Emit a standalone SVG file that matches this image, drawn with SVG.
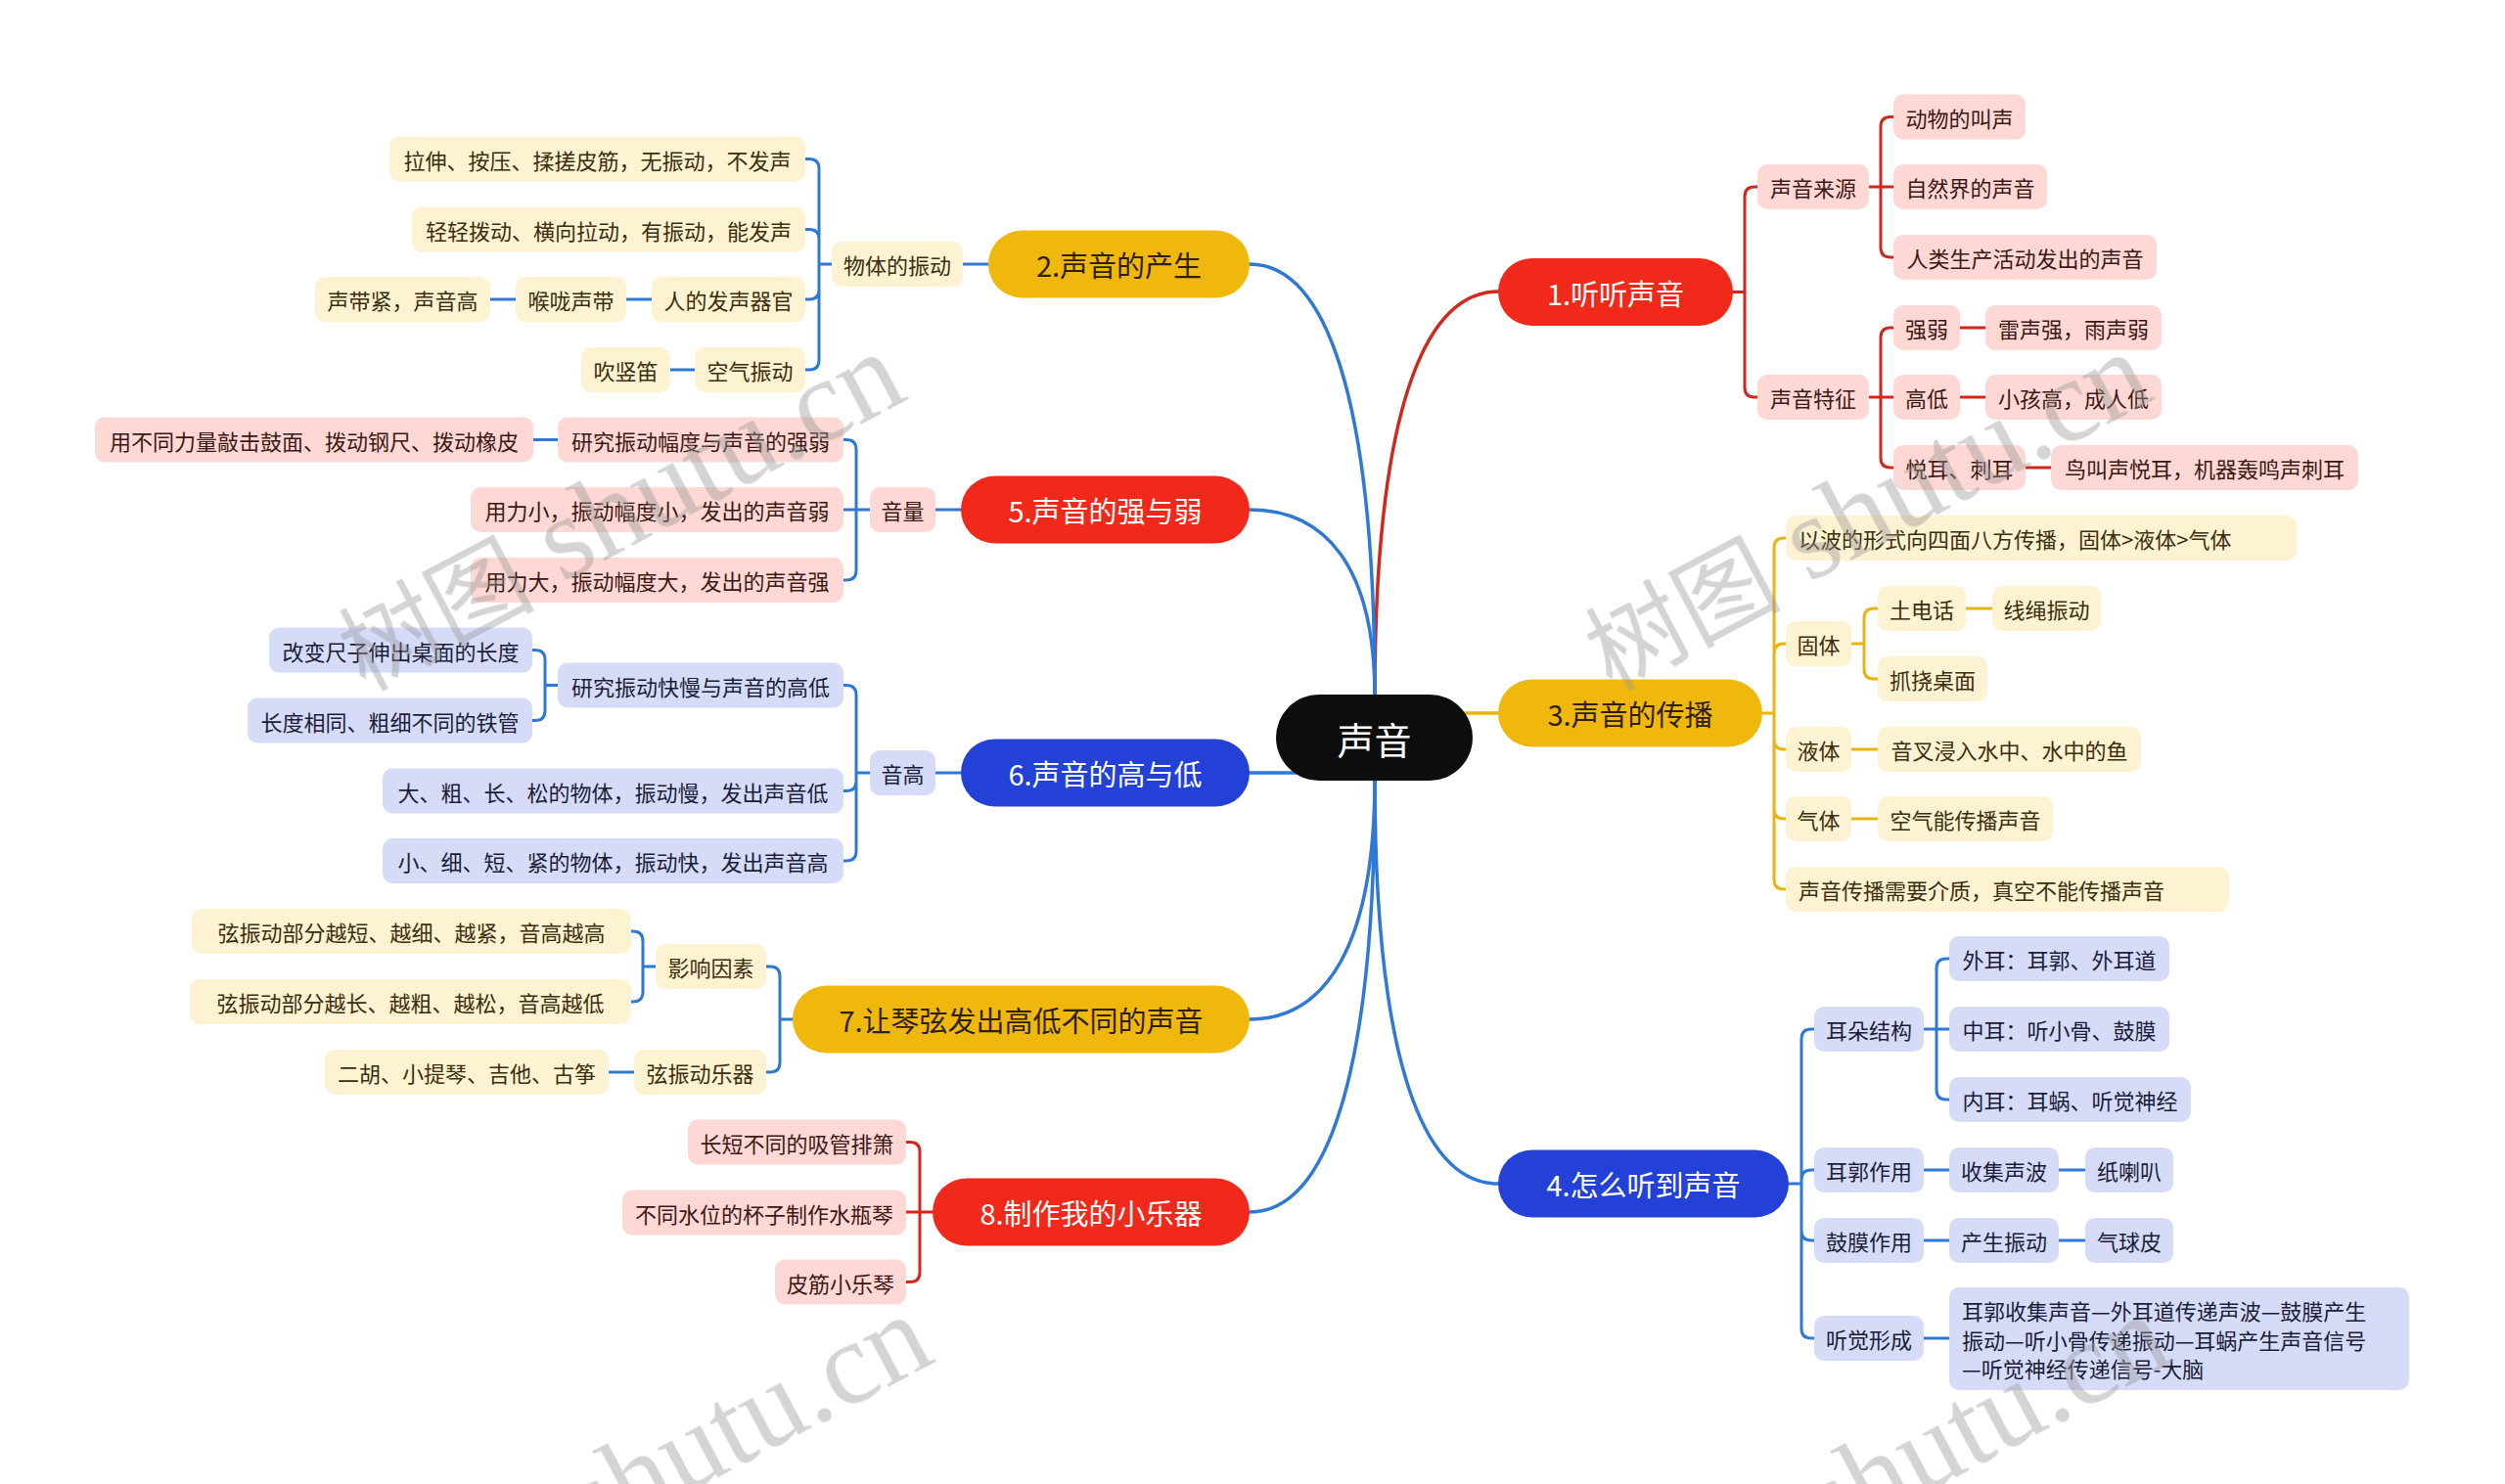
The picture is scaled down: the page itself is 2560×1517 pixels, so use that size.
<svg xmlns="http://www.w3.org/2000/svg" width="2560" height="1517" viewBox="0 0 2560 1517">
<style>
text{font-family:"Noto Sans CJK SC","Noto Sans",sans-serif;dominant-baseline:central}
.c{fill:none;stroke-width:3;stroke-linecap:round;stroke-linejoin:round}
.m{fill:none;stroke-width:3.5;stroke-linecap:round}
.sr{stroke:#d0281c}.sb{stroke:#2e78d6}.sy{stroke:#e9b40e}
.nr{fill:#f0291b}.ny{fill:#f0b80c}.nb{fill:#2441d7}
.lr{fill:#fdd8d5}.ly{fill:#fdf2d2}.lb{fill:#d6dbf7}
.t1{font-size:29px;text-anchor:middle}
.w{fill:#ffffff}.d{fill:#2e2000}
.t{font-size:22px;text-anchor:middle}
.ts{font-size:22px;text-anchor:start}
.tr{fill:#3d1712}.ty{fill:#3b2e0c}.tb{fill:#1a1d3a}
.wm{fill:#999999;opacity:0.42}
</style>
<g id="connectors">
<path class="m sr" d="M1405,712 C1405,422 1455,298 1531,298"/>
<path class="m sb" d="M1405,712 C1405,403 1354,270 1277,270"/>
<path class="m sb" d="M1405,712 C1405,578 1354,521 1277,521"/>
<path class="m sy" d="M1480,729 H1531"/>
<path class="m sb" d="M1340,790 H1277"/>
<path class="m sb" d="M1405,796 C1405,1086 1455,1210 1531,1210"/>
<path class="m sb" d="M1405,796 C1405,968 1354,1042 1277,1042"/>
<path class="m sb" d="M1405,796 C1405,1106 1354,1239 1277,1239"/>
<path class="c sr" d="M1771,298.5 H1783 M1783,298.5 V201 Q1783,191 1793,191 H1796 M1783,298.5 V396 Q1783,406 1793,406 H1796"/>
<path class="c sr" d="M1910,191 H1935 M1922,191 V129.5 Q1922,119.5 1932,119.5 H1935 M1922,191 V253 Q1922,263 1932,263 H1935"/>
<path class="c sr" d="M1910,406 H1935 M1922,406 V345 Q1922,335 1932,335 H1935 M1922,406 V468 Q1922,478 1932,478 H1935"/>
<path class="c sr" d="M2003,335 H2029 M2003,406 H2029 M2070,478 H2096"/>
<path class="c sy" d="M1801,729 H1813 M1813,729 V560 Q1813,550 1823,550 H1825 M1813,729 V668 Q1813,658 1823,658 H1825 M1813,729 V756 Q1813,766 1823,766 H1825 M1813,729 V827 Q1813,837 1823,837 H1825 M1813,729 V899 Q1813,909 1823,909 H1825"/>
<path class="c sy" d="M1892,658 H1905 M1905,658 V632 Q1905,622 1915,622 H1919 M1905,658 V684 Q1905,694 1915,694 H1919"/>
<path class="c sy" d="M2009,622 H2036 M1892,766 H1919 M1892,837 H1919"/>
<path class="c sb" d="M1828,1210 H1841 M1841,1210 V1062 Q1841,1052 1851,1052 H1854 M1841,1210 V1206 Q1841,1196 1851,1196 H1854 M1841,1210 V1258 Q1841,1268 1851,1268 H1854 M1841,1210 V1358 Q1841,1368 1851,1368 H1854"/>
<path class="c sb" d="M1966,1052 H1992 M1979,1052 V990 Q1979,980 1989,980 H1992 M1979,1052 V1114 Q1979,1124 1989,1124 H1992"/>
<path class="c sb" d="M1966,1196 H1992 M2104,1196 H2131 M1966,1268 H1992 M2104,1268 H2131 M1966,1368 H1992"/>
<path class="c sb" d="M1010,270 H984"/>
<path class="c sb" d="M850,270 H837 M837,270 V172.5 Q837,162.5 827,162.5 H823 M837,270 V244.5 Q837,234.5 827,234.5 H823 M837,270 V296 Q837,306 827,306 H823 M837,270 V368 Q837,378 827,378 H823"/>
<path class="c sb" d="M666,306 H640 M527,306 H501 M710,378 H685"/>
<path class="c sb" d="M982,521 H956 M889,521 H862 M875,521 V459.5 Q875,449.5 865,449.5 H862 M875,521 V583 Q875,593 865,593 H862 M570,449.5 H545"/>
<path class="c sb" d="M982,790 H956 M889,790 H875 M875,790 V710.5 Q875,700.5 865,700.5 H862 M875,790 V798.5 Q875,808.5 865,808.5 H862 M875,790 V870 Q875,880 865,880 H862"/>
<path class="c sb" d="M570,700.5 H557 M557,700.5 V674.5 Q557,664.5 547,664.5 H544 M557,700.5 V726.5 Q557,736.5 547,736.5 H544"/>
<path class="c sb" d="M810,1042 H797 M797,1042 V998 Q797,988 787,988 H783 M797,1042 V1086 Q797,1096 787,1096 H783"/>
<path class="c sb" d="M670,988 H657 M657,988 V962 Q657,952 647,952 H645 M657,988 V1014 Q657,1024 647,1024 H645 M648,1096 H622"/>
<path class="c sr" d="M953,1239 H926 M940,1239 V1177.5 Q940,1167.5 930,1167.5 H926 M940,1239 V1300.5 Q940,1310.5 930,1310.5 H926"/>
</g>
<g id="root"><rect x="1304" y="710" width="201" height="88" rx="44" fill="#0d0d0d"/><text x="1404.5" y="754" font-size="38" text-anchor="middle" fill="#ffffff">声音</text></g>
<g id="b1"><rect class="nr" x="1531" y="264" width="240" height="69" rx="34.5"/><text class="t1 w" x="1651" y="298.5">1.听听声音</text></g>
<g id="b2"><rect class="ny" x="1010" y="235.5" width="267" height="69" rx="34.5"/><text class="t1 d" x="1143.5" y="270">2.声音的产生</text></g>
<g id="b3"><rect class="ny" x="1531" y="694.5" width="270" height="69" rx="34.5"/><text class="t1 d" x="1666" y="729">3.声音的传播</text></g>
<g id="b4"><rect class="nb" x="1531" y="1175.5" width="297" height="69" rx="34.5"/><text class="t1 w" x="1679.5" y="1210">4.怎么听到声音</text></g>
<g id="b5"><rect class="nr" x="982" y="486.5" width="295" height="69" rx="34.5"/><text class="t1 w" x="1129.5" y="521">5.声音的强与弱</text></g>
<g id="b6"><rect class="nb" x="982" y="755.5" width="295" height="69" rx="34.5"/><text class="t1 w" x="1129.5" y="790">6.声音的高与低</text></g>
<g id="b7"><rect class="ny" x="810" y="1007.5" width="467" height="69" rx="34.5"/><text class="t1 d" x="1043.5" y="1042">7.让琴弦发出高低不同的声音</text></g>
<g id="b8"><rect class="nr" x="953" y="1204.5" width="324" height="69" rx="34.5"/><text class="t1 w" x="1115" y="1239">8.制作我的小乐器</text></g>
<g id="n1a"><rect class="lr" x="1796" y="168" width="114" height="46" rx="10"/><text class="t tr" x="1853" y="191">声音来源</text></g>
<g id="n1a1"><rect class="lr" x="1935" y="96.5" width="135" height="46" rx="10"/><text class="t tr" x="2002.5" y="119.5">动物的叫声</text></g>
<g id="n1a2"><rect class="lr" x="1935" y="168" width="157" height="46" rx="10"/><text class="t tr" x="2013.5" y="191">自然界的声音</text></g>
<g id="n1a3"><rect class="lr" x="1935" y="240" width="269" height="46" rx="10"/><text class="t tr" x="2069.5" y="263">人类生产活动发出的声音</text></g>
<g id="n1b"><rect class="lr" x="1796" y="383" width="114" height="46" rx="10"/><text class="t tr" x="1853" y="406">声音特征</text></g>
<g id="n1b1"><rect class="lr" x="1935" y="312" width="68" height="46" rx="10"/><text class="t tr" x="1969" y="335">强弱</text></g>
<g id="n1b1a"><rect class="lr" x="2029" y="312" width="180" height="46" rx="10"/><text class="t tr" x="2119" y="335">雷声强，雨声弱</text></g>
<g id="n1b2"><rect class="lr" x="1935" y="383" width="68" height="46" rx="10"/><text class="t tr" x="1969" y="406">高低</text></g>
<g id="n1b2a"><rect class="lr" x="2029" y="383" width="180" height="46" rx="10"/><text class="t tr" x="2119" y="406">小孩高，成人低</text></g>
<g id="n1b3"><rect class="lr" x="1935" y="455" width="135" height="46" rx="10"/><text class="t tr" x="2002.5" y="478">悦耳、刺耳</text></g>
<g id="n1b3a"><rect class="lr" x="2096" y="455" width="314" height="46" rx="10"/><text class="t tr" x="2253" y="478">鸟叫声悦耳，机器轰鸣声刺耳</text></g>
<g id="n3a"><rect class="ly" x="1825" y="527" width="522" height="46" rx="10"/><text class="ts ty" x="1838" y="550">以波的形式向四面八方传播，固体&gt;液体&gt;气体</text></g>
<g id="n3b"><rect class="ly" x="1825" y="635" width="67" height="46" rx="10"/><text class="t ty" x="1858.5" y="658">固体</text></g>
<g id="n3b1"><rect class="ly" x="1919" y="599" width="90" height="46" rx="10"/><text class="t ty" x="1964" y="622">土电话</text></g>
<g id="n3b1a"><rect class="ly" x="2036" y="599" width="111" height="46" rx="10"/><text class="t ty" x="2091.5" y="622">线绳振动</text></g>
<g id="n3b2"><rect class="ly" x="1919" y="671" width="112" height="46" rx="10"/><text class="t ty" x="1975" y="694">抓挠桌面</text></g>
<g id="n3c"><rect class="ly" x="1825" y="743" width="67" height="46" rx="10"/><text class="t ty" x="1858.5" y="766">液体</text></g>
<g id="n3c1"><rect class="ly" x="1919" y="743" width="269" height="46" rx="10"/><text class="t ty" x="2053.5" y="766">音叉浸入水中、水中的鱼</text></g>
<g id="n3d"><rect class="ly" x="1825" y="814" width="67" height="46" rx="10"/><text class="t ty" x="1858.5" y="837">气体</text></g>
<g id="n3d1"><rect class="ly" x="1919" y="814" width="179" height="46" rx="10"/><text class="t ty" x="2008.5" y="837">空气能传播声音</text></g>
<g id="n3e"><rect class="ly" x="1825" y="886" width="453" height="46" rx="10"/><text class="ts ty" x="1838" y="909">声音传播需要介质，真空不能传播声音</text></g>
<g id="n4a"><rect class="lb" x="1854" y="1029" width="112" height="46" rx="10"/><text class="t tb" x="1910" y="1052">耳朵结构</text></g>
<g id="n4a1"><rect class="lb" x="1992" y="957" width="225" height="46" rx="10"/><text class="t tb" x="2104.5" y="980">外耳：耳郭、外耳道</text></g>
<g id="n4a2"><rect class="lb" x="1992" y="1029" width="225" height="46" rx="10"/><text class="t tb" x="2104.5" y="1052">中耳：听小骨、鼓膜</text></g>
<g id="n4a3"><rect class="lb" x="1992" y="1101" width="247" height="46" rx="10"/><text class="t tb" x="2115.5" y="1124">内耳：耳蜗、听觉神经</text></g>
<g id="n4b"><rect class="lb" x="1854" y="1173" width="112" height="46" rx="10"/><text class="t tb" x="1910" y="1196">耳郭作用</text></g>
<g id="n4b1"><rect class="lb" x="1992" y="1173" width="112" height="46" rx="10"/><text class="t tb" x="2048" y="1196">收集声波</text></g>
<g id="n4b2"><rect class="lb" x="2131" y="1173" width="90" height="46" rx="10"/><text class="t tb" x="2176" y="1196">纸喇叭</text></g>
<g id="n4c"><rect class="lb" x="1854" y="1245" width="112" height="46" rx="10"/><text class="t tb" x="1910" y="1268">鼓膜作用</text></g>
<g id="n4c1"><rect class="lb" x="1992" y="1245" width="112" height="46" rx="10"/><text class="t tb" x="2048" y="1268">产生振动</text></g>
<g id="n4c2"><rect class="lb" x="2131" y="1245" width="90" height="46" rx="10"/><text class="t tb" x="2176" y="1268">气球皮</text></g>
<g id="n4d"><rect class="lb" x="1854" y="1345" width="112" height="46" rx="10"/><text class="t tb" x="1910" y="1368">听觉形成</text></g>
<g id="n4d1"><rect class="lb" x="1992" y="1316" width="470" height="105" rx="10"/><text class="ts tb" x="2005" y="1339">耳郭收集声音—外耳道传递声波—鼓膜产生</text><text class="ts tb" x="2005" y="1368.5">振动—听小骨传递振动—耳蜗产生声音信号</text><text class="ts tb" x="2005" y="1398">—听觉神经传递信号-大脑</text></g>
<g id="n2a"><rect class="ly" x="850" y="247" width="134" height="46" rx="10"/><text class="t ty" x="917" y="270">物体的振动</text></g>
<g id="n2a1"><rect class="ly" x="398" y="139.5" width="425" height="46" rx="10"/><text class="t ty" x="610.5" y="162.5">拉伸、按压、揉搓皮筋，无振动，不发声</text></g>
<g id="n2a2"><rect class="ly" x="421" y="211.5" width="402" height="46" rx="10"/><text class="t ty" x="622" y="234.5">轻轻拨动、横向拉动，有振动，能发声</text></g>
<g id="n2a3"><rect class="ly" x="666" y="283" width="157" height="46" rx="10"/><text class="t ty" x="744.5" y="306">人的发声器官</text></g>
<g id="n2a3a"><rect class="ly" x="527" y="283" width="113" height="46" rx="10"/><text class="t ty" x="583.5" y="306">喉咙声带</text></g>
<g id="n2a3b"><rect class="ly" x="322" y="283" width="179" height="46" rx="10"/><text class="t ty" x="411.5" y="306">声带紧，声音高</text></g>
<g id="n2a4"><rect class="ly" x="710" y="355" width="113" height="46" rx="10"/><text class="t ty" x="766.5" y="378">空气振动</text></g>
<g id="n2a4a"><rect class="ly" x="594" y="355" width="91" height="46" rx="10"/><text class="t ty" x="639.5" y="378">吹竖笛</text></g>
<g id="n5a"><rect class="lr" x="889" y="498" width="67" height="46" rx="10"/><text class="t tr" x="922.5" y="521">音量</text></g>
<g id="n5a1"><rect class="lr" x="570" y="426.5" width="292" height="46" rx="10"/><text class="t tr" x="716" y="449.5">研究振动幅度与声音的强弱</text></g>
<g id="n5a1a"><rect class="lr" x="97" y="426.5" width="448" height="46" rx="10"/><text class="t tr" x="321" y="449.5">用不同力量敲击鼓面、拨动钢尺、拨动橡皮</text></g>
<g id="n5a2"><rect class="lr" x="481" y="498" width="381" height="46" rx="10"/><text class="t tr" x="671.5" y="521">用力小，振动幅度小，发出的声音弱</text></g>
<g id="n5a3"><rect class="lr" x="481" y="570" width="381" height="46" rx="10"/><text class="t tr" x="671.5" y="593">用力大，振动幅度大，发出的声音强</text></g>
<g id="n6a"><rect class="lb" x="889" y="767" width="67" height="46" rx="10"/><text class="t tb" x="922.5" y="790">音高</text></g>
<g id="n6a1"><rect class="lb" x="570" y="677.5" width="292" height="46" rx="10"/><text class="t tb" x="716" y="700.5">研究振动快慢与声音的高低</text></g>
<g id="n6a1a"><rect class="lb" x="275" y="641.5" width="269" height="46" rx="10"/><text class="t tb" x="409.5" y="664.5">改变尺子伸出桌面的长度</text></g>
<g id="n6a1b"><rect class="lb" x="253" y="713.5" width="291" height="46" rx="10"/><text class="t tb" x="398.5" y="736.5">长度相同、粗细不同的铁管</text></g>
<g id="n6a2"><rect class="lb" x="391" y="785.5" width="471" height="46" rx="10"/><text class="t tb" x="626.5" y="808.5">大、粗、长、松的物体，振动慢，发出声音低</text></g>
<g id="n6a3"><rect class="lb" x="391" y="857" width="471" height="46" rx="10"/><text class="t tb" x="626.5" y="880">小、细、短、紧的物体，振动快，发出声音高</text></g>
<g id="n7a"><rect class="ly" x="670" y="965" width="113" height="46" rx="10"/><text class="t ty" x="726.5" y="988">影响因素</text></g>
<g id="n7a1"><rect class="ly" x="196" y="929" width="449" height="46" rx="10"/><text class="t ty" x="420.5" y="952">弦振动部分越短、越细、越紧，音高越高</text></g>
<g id="n7a2"><rect class="ly" x="194" y="1001" width="451" height="46" rx="10"/><text class="t ty" x="419.5" y="1024">弦振动部分越长、越粗、越松，音高越低</text></g>
<g id="n7b"><rect class="ly" x="648" y="1073" width="135" height="46" rx="10"/><text class="t ty" x="715.5" y="1096">弦振动乐器</text></g>
<g id="n7b1"><rect class="ly" x="332" y="1073" width="290" height="46" rx="10"/><text class="t ty" x="477" y="1096">二胡、小提琴、吉他、古筝</text></g>
<g id="n8a"><rect class="lr" x="703" y="1144.5" width="223" height="46" rx="10"/><text class="t tr" x="814.5" y="1167.5">长短不同的吸管排箫</text></g>
<g id="n8b"><rect class="lr" x="636" y="1216.5" width="290" height="46" rx="10"/><text class="t tr" x="781" y="1239.5">不同水位的杯子制作水瓶琴</text></g>
<g id="n8c"><rect class="lr" x="792" y="1287.5" width="134" height="46" rx="10"/><text class="t tr" x="859" y="1310.5">皮筋小乐琴</text></g>
<g id="watermark" class="wm">
<text transform="translate(352,668) rotate(-28)"><tspan font-size="100">树图</tspan><tspan font-family="Liberation Serif" font-size="120"> shutu.cn</tspan></text>
<text transform="translate(1626,668) rotate(-28)"><tspan font-size="100">树图</tspan><tspan font-family="Liberation Serif" font-size="120"> shutu.cn</tspan></text>
<text transform="translate(380,1652) rotate(-28)"><tspan font-size="100">树图</tspan><tspan font-family="Liberation Serif" font-size="120"> shutu.cn</tspan></text>
<text transform="translate(1645,1652) rotate(-28)"><tspan font-size="100">树图</tspan><tspan font-family="Liberation Serif" font-size="120"> shutu.cn</tspan></text>
</g>
</svg>
